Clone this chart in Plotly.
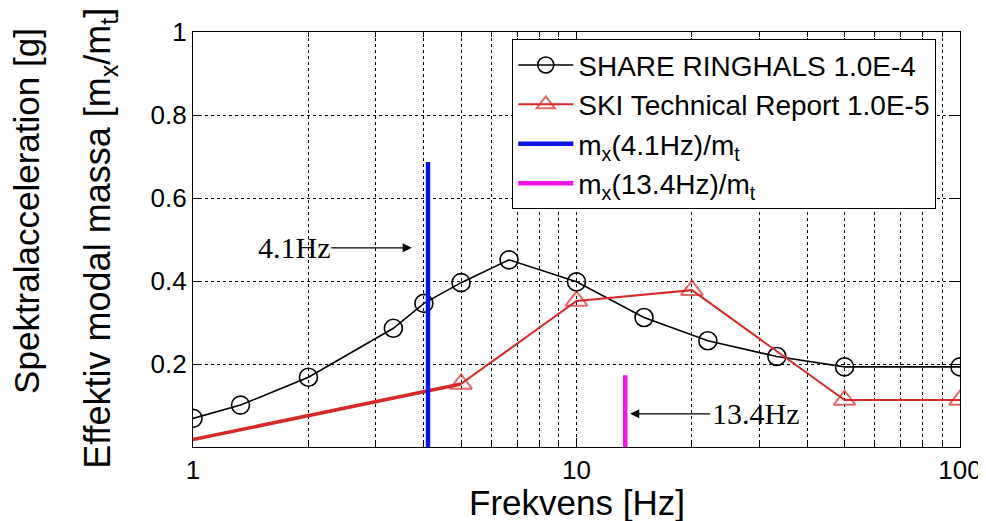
import numpy as np
import plotly.graph_objects as go

# ---- data ----
share_f = [1.0, 1.33, 2.0, 3.33, 4.0, 5.0, 6.67, 10.0, 15.0, 22.0, 33.3, 50.0, 100.0]
share_a = [0.069, 0.101, 0.168, 0.286, 0.346, 0.396, 0.451, 0.398, 0.312, 0.256, 0.218, 0.193, 0.193]

ski_f = [1.0, 5.0, 10.0, 20.0, 50.0, 100.0]
ski_a = [0.018, 0.152, 0.352, 0.378, 0.113, 0.113]

mode1_f = [4.1, 4.1]
mode1_m = [0.0, 0.687]
mode2_f = [13.4, 13.4]
mode2_m = [0.0, 0.173]

x_ticks = [1, 10, 100]
x_minor = [2, 3, 4, 5, 6, 7, 8, 9, 20, 30, 40, 50, 60, 70, 80, 90]
y_ticks = [0.2, 0.4, 0.6, 0.8, 1.0]

names = ["SHARE RINGHALS 1.0E-4", "SKI Technical Report 1.0E-5",
         "m<sub>x</sub>(4.1Hz)/m<sub>t</sub>", "m<sub>x</sub>(13.4Hz)/m<sub>t</sub>"]

RED = "#d42a2a"
SANS = "Liberation Sans, Arial, sans-serif"
SERIF = "Liberation Serif, Times New Roman, serif"

fig = go.Figure()
fig.add_trace(go.Scatter(x=share_f, y=share_a, mode="lines+markers", name=names[0],
                         line=dict(color="black", width=1.6),
                         marker=dict(symbol="circle-open", size=18, color="black",
                                     line=dict(width=1.6, color="black"))))
# thicker first segment of the SKI curve
fig.add_trace(go.Scatter(x=ski_f[:2], y=ski_a[:2], mode="lines", showlegend=False,
                         line=dict(color=RED, width=3.5), hoverinfo="skip"))
fig.add_trace(go.Scatter(x=ski_f, y=ski_a, mode="lines+markers", name=names[1],
                         line=dict(color=RED, width=2),
                         marker=dict(symbol="triangle-up-open", size=[0] + [19] * (len(ski_f) - 1),
                                     color=RED, line=dict(width=2, color=RED))))
fig.add_trace(go.Scatter(x=mode1_f, y=mode1_m, mode="lines", name=names[2],
                         line=dict(color="#0a14e6", width=4.5)))
fig.add_trace(go.Scatter(x=mode2_f, y=mode2_m, mode="lines", name=names[3],
                         line=dict(color="#ee14e6", width=4.5)))

# annotation positions (arrow heads)
ann1_f, ann1_y, ann1_dx = 3.72, 0.48, -118
ann2_f, ann2_y, ann2_dx = 13.8, 0.08, 125

fig.add_annotation(x=np.log10(ann1_f), y=ann1_y, xref="x", yref="y", text="4.1Hz",
                   showarrow=True, ax=ann1_dx, ay=0, arrowhead=2, arrowsize=1.4,
                   arrowwidth=1.3, arrowcolor="black",
                   font=dict(family=SERIF, size=30, color="black"))
fig.add_annotation(x=np.log10(ann2_f), y=ann2_y, xref="x", yref="y", text="13.4Hz",
                   showarrow=True, ax=ann2_dx, ay=0, arrowhead=2, arrowsize=1.4,
                   arrowwidth=1.3, arrowcolor="black",
                   font=dict(family=SERIF, size=30, color="black"))

# two-line y axis title
fig.add_annotation(x=-0.2164, y=0.569, xref="paper", yref="paper", text="Spektralacceleration [g]",
                   showarrow=False, textangle=-90, xanchor="center", yanchor="middle",
                   font=dict(family=SANS, size=35, color="black"))
fig.add_annotation(x=-0.1213, y=0.504, xref="paper", yref="paper",
                   text="Effektiv modal massa [m<sub>x</sub>/m<sub>t</sub>]",
                   showarrow=False, textangle=-90, xanchor="center", yanchor="middle",
                   font=dict(family=SANS, size=36, color="black"))
# x axis title
fig.add_annotation(x=0.5, y=-0.134, xref="paper", yref="paper", text="Frekvens [Hz]",
                   showarrow=False, xanchor="center", yanchor="middle",
                   font=dict(family=SANS, size=35, color="black"))

# the page body adds an 8px offset, so the figure is 8px smaller than the window
fig.update_layout(
    width=978, height=513,
    margin=dict(l=185, r=26, t=24, b=74),
    paper_bgcolor="white", plot_bgcolor="white",
    font=dict(family=SANS, color="black"),
    showlegend=True,
    legend=dict(x=0.416, y=0.983, xanchor="left", yanchor="top",
                bgcolor="white", bordercolor="black", borderwidth=1.2,
                font=dict(family=SANS, size=28, color="black"),
                itemwidth=55, tracegroupgap=0),
    xaxis=dict(type="log", range=[0, 2], tickvals=x_ticks, ticktext=[str(v) for v in x_ticks],
               ticks="inside", ticklen=9, tickcolor="black", tickwidth=1,
               showline=True, linecolor="black", linewidth=1.2, mirror="allticks",
               showgrid=True, gridcolor="black", griddash="dot", gridwidth=1,
               tickfont=dict(size=26), zeroline=False, automargin=False,
               minor=dict(tickvals=x_minor, ticks="inside", ticklen=5, tickcolor="black",
                          showgrid=True, gridcolor="black", griddash="dot", gridwidth=1)),
    yaxis=dict(range=[0, 1], tickvals=y_ticks, ticktext=["0.2", "0.4", "0.6", "0.8", "1"],
               ticks="inside", ticklen=9, tickcolor="black", tickwidth=1,
               showline=True, linecolor="black", linewidth=1.2, mirror="allticks",
               showgrid=True, gridcolor="black", griddash="dot", gridwidth=1,
               tickfont=dict(size=26), zeroline=False, automargin=False),
)

fig.write_html("out.html")
